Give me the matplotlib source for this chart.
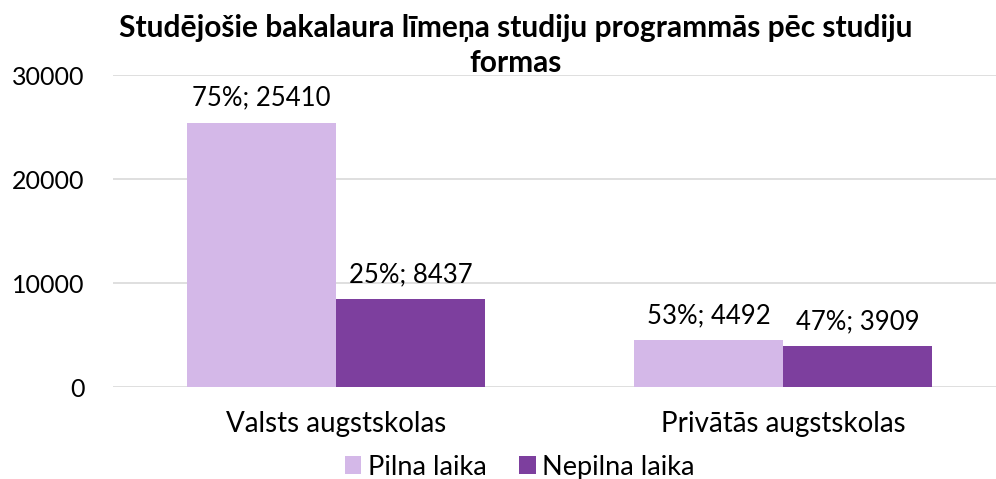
import numpy as np
import matplotlib.pyplot as plt

# data
categories = ["Valsts augstskolas", "Privātās augstskolas"]
series_names = ["Pilna laika", "Nepilna laika"]
full_time = [25410, 4492]
part_time = [8437, 3909]
full_pct = ["75%", "53%"]
part_pct = ["25%", "47%"]
y_ticks = [0, 10000, 20000, 30000]

title = "Studējošie bakalaura līmeņa studiju programmās pēc studiju\nformas"

light = "#D4B8E8"
dark = "#7D3F9E"

plt.rcParams['font.family'] = ['Lato', 'DejaVu Sans']

fig = plt.figure(figsize=(9.96, 4.79), dpi=100)
ax = fig.add_axes([0.113, 0.192, 0.8976, 0.651])

x = np.arange(len(categories))
w = 0.333
b1 = ax.bar(x - w / 2, full_time, w, color=light, label=series_names[0], zorder=3)
b2 = ax.bar(x + w / 2, part_time, w, color=dark, label=series_names[1], zorder=3)

for bars, vals, pcts in [(b1, full_time, full_pct), (b2, part_time, part_pct)]:
    for rect, v, p in zip(bars, vals, pcts):
        ax.annotate(p + "; " + str(v), (rect.get_x() + rect.get_width() / 2, v),
                    xytext=(0, 9), textcoords="offset points",
                    ha="center", va="bottom", fontsize=18.5)

ax.set_xlim(-0.5, 1.5)
ax.set_ylim(0, 30000)
ax.set_yticks(y_ticks)
ax.set_yticklabels([str(t) for t in y_ticks], fontsize=18)
ax.set_xticks(x)
ax.set_xticklabels(categories, fontsize=20)
ax.tick_params(axis="both", length=0)
ax.tick_params(axis="x", pad=17)
ax.tick_params(axis="y", pad=20)
ax.grid(axis="y", color="#D9D9D9", linewidth=1.2, zorder=0)
for s in ax.spines.values():
    s.set_visible(False)

fig.text(0.518, 0.905, title, ha="center", va="center", fontsize=21.5,
         fontweight="bold", linespacing=1.3)

fig.legend(loc="center", bbox_to_anchor=(0.522, 0.025), ncol=2, frameon=False,
           fontsize=19.5, handlelength=0.6, handleheight=0.6, handletextpad=0.25,
           columnspacing=1.2, borderpad=0)

plt.savefig("out.png", dpi=100)
